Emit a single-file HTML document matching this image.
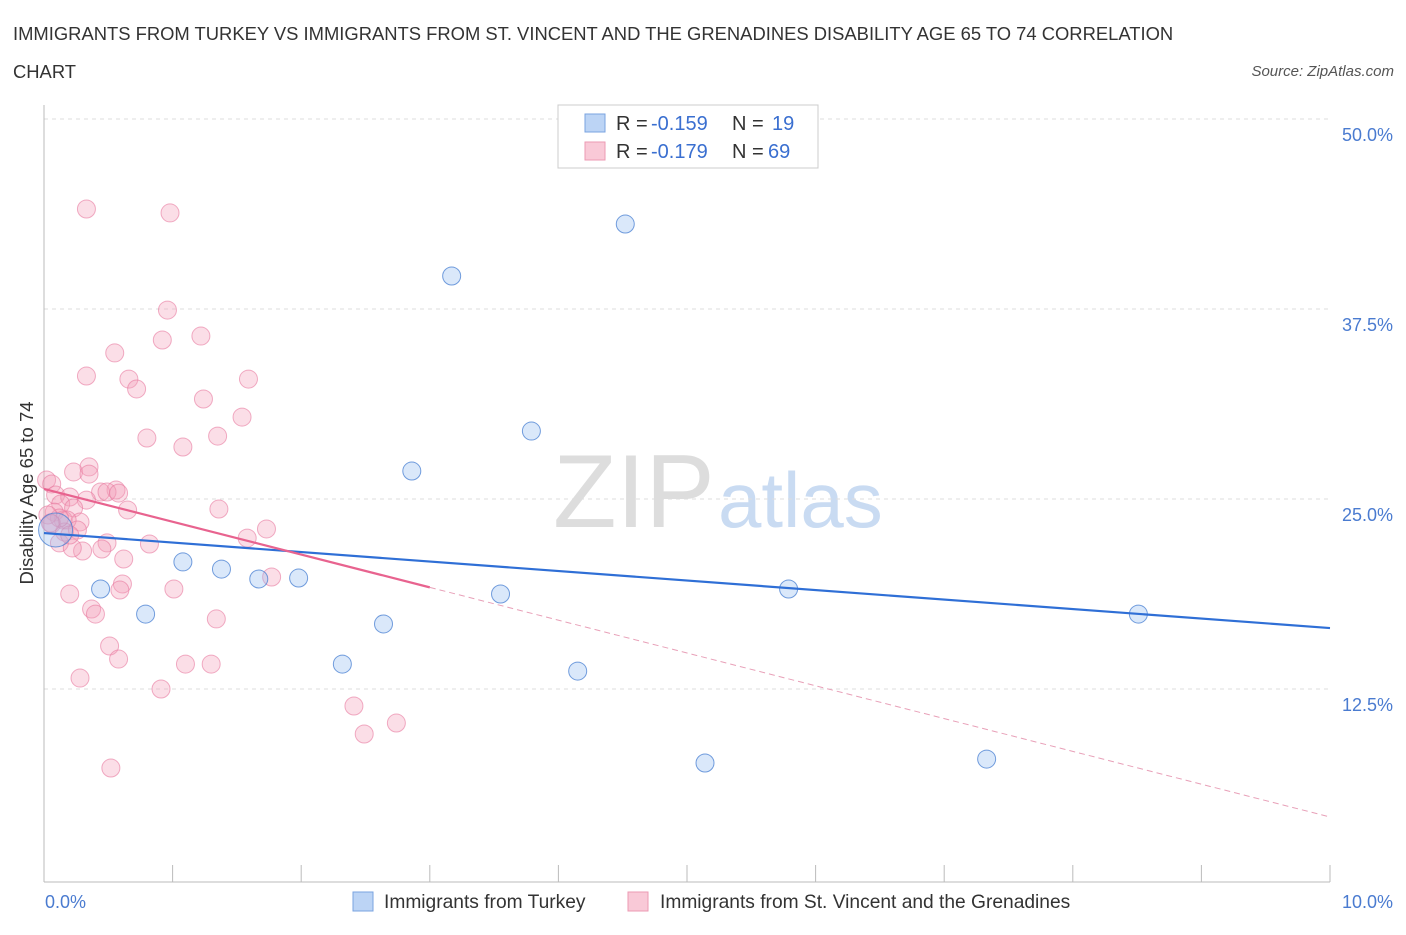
<!DOCTYPE html>
<html><head><meta charset="utf-8"><style>
body{margin:0;background:#fff;font-family:"Liberation Sans",sans-serif;}
svg text{font-family:"Liberation Sans",sans-serif;}
</style></head><body>
<svg id="c" width="1406" height="930">
<text x="13" y="40" font-size="18.4" fill="#333">IMMIGRANTS FROM TURKEY VS IMMIGRANTS FROM ST. VINCENT AND THE GRENADINES DISABILITY AGE 65 TO 74 CORRELATION</text>
<text x="13" y="78" font-size="18.4" fill="#333">CHART</text>
<text x="1394" y="76" font-size="15" fill="#555" font-style="italic" text-anchor="end">Source: ZipAtlas.com</text>
<text x="553" y="527" font-size="104" fill="#ddd" font-family="Liberation Serif">ZIP</text>
<text x="718" y="527" font-size="78" fill="#c9dbf2">atlas</text>
<g id="grid"></g>
<line x1="44" y1="105" x2="44" y2="882" stroke="#bbb"/>
<line x1="44" y1="882" x2="1330" y2="882" stroke="#bbb"/>
<g id="ticks"></g>
<g id="pts"></g>
<g id="lines"></g>
<text x="33" y="493" font-size="18.5" fill="#333" text-anchor="middle" transform="rotate(-90 33 493)">Disability Age 65 to 74</text>
<text x="45" y="908" font-size="18" fill="#4a7bd0">0.0%</text>
<text x="1393" y="908" font-size="18" fill="#4a7bd0" text-anchor="end">10.0%</text>
<g>
<rect x="558" y="105" width="260" height="63" fill="#fff" stroke="#ccc"/>
<rect x="585" y="114" width="20" height="18" fill="#bcd4f5" stroke="#7aa3e0"/>
<rect x="585" y="142" width="20" height="18" fill="#f9c9d7" stroke="#ec9ab3"/>
<text x="616" y="130" font-size="20" fill="#333">R =</text>
<text x="651" y="130" font-size="20" fill="#3a6fd0">-0.159</text>
<text x="732" y="130" font-size="20" fill="#333">N =</text>
<text x="772" y="130" font-size="20" fill="#3a6fd0">19</text>
<text x="616" y="158" font-size="20" fill="#333">R =</text>
<text x="651" y="158" font-size="20" fill="#3a6fd0">-0.179</text>
<text x="732" y="158" font-size="20" fill="#333">N =</text>
<text x="768" y="158" font-size="20" fill="#3a6fd0">69</text>
</g>
<g>
<rect x="353" y="892" width="20" height="19" fill="#bcd4f5" stroke="#7aa3e0"/>
<text x="384" y="908" font-size="19.2" fill="#333">Immigrants from Turkey</text>
<rect x="628" y="892" width="20" height="19" fill="#f9c9d7" stroke="#ec9ab3"/>
<text x="660" y="908" font-size="19.2" fill="#333">Immigrants from St. Vincent and the Grenadines</text>
</g>
</svg>
<script>
const yTicks=[12.5,25,37.5,50];
const yTickLabels=["12.5%","25.0%","37.5%","50.0%"];
const xTicks=[1,2,3,4,5,6,7,8,9,10];
const blueX=[0.09,0.44,0.79,1.08,1.38,1.67,1.98,2.32,2.64,2.86,3.17,3.55,3.79,4.15,4.52,5.14,5.79,7.33,8.51];
const blueY=[22.96,19.08,17.43,20.86,20.39,19.74,19.80,14.14,16.78,26.84,39.67,18.75,29.47,13.68,43.09,7.63,19.08,7.89,17.43];
const pinkX=[0.33,0.98,0.96,1.22,0.92,0.55,0.33,0.66,0.72,1.59,1.24,1.54,0.80,1.35,1.08,0.23,0.35,0.35,0.02,0.06,0.56,0.44,0.09,0.20,0.33,0.49,0.58,0.13,0.23,0.08,0.65,1.36,0.15,0.28,0.06,0.18,0.16,0.12,0.26,0.49,1.73,1.58,0.82,0.45,0.30,0.22,0.62,0.61,1.01,0.59,0.20,0.37,0.40,1.34,0.51,0.58,1.10,1.30,0.28,0.91,2.41,2.74,2.49,0.52,1.77,0.12,0.03,0.05,0.20];
const pinkY=[44.08,43.82,37.43,35.72,35.46,34.61,33.09,32.89,32.24,32.89,31.58,30.39,29.01,29.14,28.42,26.78,27.11,26.64,26.25,25.99,25.59,25.46,25.26,25.13,24.93,25.46,25.39,24.67,24.41,24.14,24.28,24.34,23.62,23.49,23.36,23.62,22.83,22.11,22.96,22.11,23.03,22.43,22.04,21.71,21.58,21.78,21.05,19.41,19.08,19.01,18.75,17.76,17.43,17.11,15.33,14.47,14.14,14.14,13.22,12.5,11.38,10.26,9.54,7.30,19.87,23.75,23.95,23.42,22.63];
const blueTrend=[22.76,16.51];
const pinkTrend=[25.66,4.08];
const pinkSolidEnd=3.0;
const NS='http://www.w3.org/2000/svg';
const sx=v=>44+v*128.6, sy=v=>879-v*15.2;
function mk(t,a,p){const e=document.createElementNS(NS,t);for(const k in a)e.setAttribute(k,a[k]);document.getElementById(p).appendChild(e);return e;}
yTicks.forEach((t,i)=>{
 const g=mk('line',{x1:44,x2:1330,y1:sy(t),y2:sy(t),stroke:'#ddd','stroke-dasharray':'4,4'},'grid');
 
 
 const l=mk('text',{x:1393,y:sy(t)+22,'font-size':18,fill:'#4a7bd0','text-anchor':'end'},'grid');
 l.textContent=yTickLabels[i];
 
 
});
xTicks.forEach(t=>{
 const e=mk('line',{x1:sx(t),x2:sx(t),y1:865,y2:882,stroke:'#bbb'},'ticks');
 
 
});
pinkX.forEach((x,i)=>{
 const c=mk('circle',{cx:sx(x),cy:sy(pinkY[i]),r:9,fill:'rgba(244,160,187,0.35)',stroke:'rgba(232,120,158,0.6)','stroke-width':1},'pts');
 
 
});
blueX.forEach((x,i)=>{
 const c=mk('circle',{cx:sx(x),cy:sy(blueY[i]),r:i===0?17:9,fill:'rgba(150,188,240,0.35)',stroke:'rgba(70,125,210,0.75)','stroke-width':1},'pts');
 
 
});
const pAt=x=>pinkTrend[0]+(pinkTrend[1]-pinkTrend[0])*x/10;
let e=mk('line',{x1:sx(0),y1:sy(blueTrend[0]),x2:sx(10),y2:sy(blueTrend[1]),stroke:'#2f6fd6','stroke-width':2.2},'lines');


e=mk('line',{x1:sx(0),y1:sy(pAt(0)),x2:sx(pinkSolidEnd),y2:sy(pAt(pinkSolidEnd)),stroke:'#e8638f','stroke-width':2.2},'lines');


e=mk('line',{x1:sx(pinkSolidEnd),y1:sy(pAt(pinkSolidEnd)),x2:sx(10),y2:sy(pAt(10)),stroke:'#e8a0b8','stroke-width':1,'stroke-dasharray':'6,4'},'lines');


</script>
</body></html>
